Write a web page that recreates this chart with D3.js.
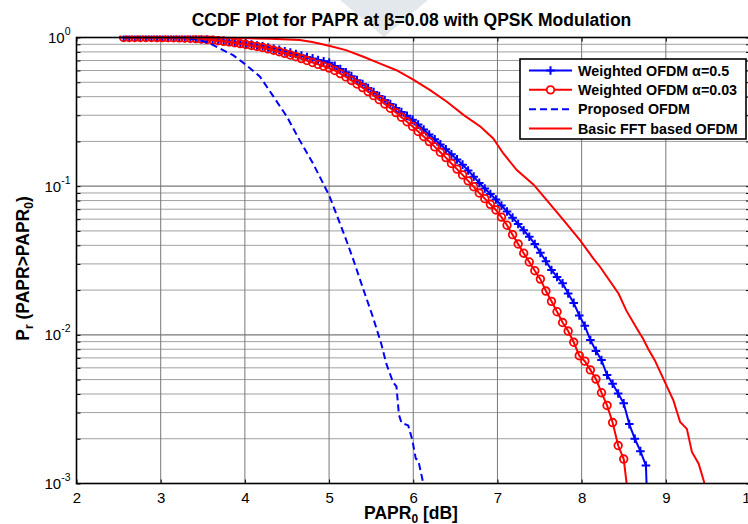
<!DOCTYPE html>
<html><head><meta charset="utf-8">
<script src="https://cdn.jsdelivr.net/npm/d3@7/dist/d3.min.js"></script>
<style>html,body{margin:0;padding:0;background:#fff;} svg{display:block;font-family:Arial,"Liberation Sans",Helvetica,sans-serif;}</style>
</head><body><svg id="chart" width="748" height="524"></svg>
<script>
// ---------- data ----------
const papr0Grid = [2.56,2.626,2.692,2.758,2.824,2.89,2.956,3.022,3.088,3.154,
3.22,3.286,3.352,3.418,3.484,3.55,3.616,3.682,3.748,3.814,
3.88,3.946,4.012,4.078,4.144,4.21,4.276,4.342,4.408,4.474,
4.54,4.606,4.672,4.738,4.804,4.87,4.936,5.002,5.068,5.134,
5.2,5.266,5.332,5.398,5.464,5.53,5.596,5.662,5.728,5.794,
5.86,5.926,5.992,6.058,6.124,6.19,6.256,6.322,6.388,6.454,
6.52,6.586,6.652,6.718,6.784,6.85,6.916,6.982,7.048,7.114,
7.18,7.246,7.312,7.378,7.444,7.51,7.576,7.642,7.708,7.774,
7.84,7.906,7.972,8.038,8.104,8.17,8.236,8.302,8.368,8.434,
8.5,8.566,8.632,8.698,8.764,8.83];

const weighted05 = [1,1,1,1,1,0.9995,0.9991,0.9986,0.9977,0.9966,
0.9950,0.9927,0.9897,0.9851,0.9795,0.9732,0.9665,0.9583,0.9502,0.9419,
0.9322,0.9215,0.9099,0.8974,0.8841,0.8730,0.8561,0.8404,0.8251,0.8072,
0.7907,0.7745,0.7568,0.7396,0.7236,0.7063,0.6918,0.6776,0.6442,0.6138,
0.5834,0.5495,0.5164,0.4864,0.4571,0.4295,0.4036,0.3793,0.3573,0.3357,
0.3155,0.2972,0.2793,0.2594,0.2404,0.2228,0.2065,0.1910,0.1770,0.1637,
0.1514,0.1396,0.1274,0.1159,0.1052,0.0964,0.0885,0.0813,0.0741,0.0675,
0.0614,0.0556,0.0505,0.0457,0.0408,0.0356,0.0313,0.0273,0.0245,0.0222,
0.0190,0.0164,0.0135,0.0115,0.00923,0.00780,0.00676,0.00537,0.00469,0.00403,
0.00346,0.00251,0.00200,0.00165,0.00132,0.0001];

const weighted003 = [1,1,1,1,1,0.9995,0.9991,0.9986,0.9977,0.9963,
0.9945,0.9920,0.9886,0.9833,0.9772,0.9694,0.9616,0.9519,0.9428,0.9333,
0.9215,0.9090,0.8974,0.8831,0.8700,0.8561,0.8386,0.8204,0.8027,0.7826,
0.7621,0.7430,0.7211,0.6998,0.6792,0.6592,0.6405,0.6230,0.5998,0.5715,
0.5433,0.5140,0.4864,0.4603,0.4325,0.4064,0.3819,0.3573,0.3342,0.3126,
0.2911,0.2710,0.2523,0.2333,0.2158,0.1995,0.1837,0.1690,0.1556,0.1422,
0.1303,0.1191,0.1086,0.0991,0.0899,0.0824,0.0755,0.0692,0.0619,0.0546,
0.0472,0.0408,0.0354,0.0309,0.0270,0.0237,0.0197,0.0168,0.0143,0.0121,
0.0106,0.00891,0.00724,0.00665,0.00581,0.00504,0.00408,0.00335,0.00257,0.00180,
0.00146,0.00071];

const proposedX = [2.56,3.0,3.3,3.47,3.59,3.86,3.99,4.18,4.34,4.50,4.65,4.81,5.0,5.13,5.22,5.29,5.41,5.52,5.62,5.68,5.76,5.80,5.83,5.86,5.94,5.99,6.03,6.06,6.12,6.15];
const proposedY = [1,1,0.99,0.96,0.91,0.76,0.67,0.545,0.40,0.293,0.204,0.142,0.087,0.056,0.041,0.0318,0.020,0.0132,0.0087,0.0064,0.0048,0.0045,0.0029,0.00256,0.00246,0.00195,0.00147,0.00143,0.001,0.0008];

const basicX = [2.56,3.0,3.5,3.94,4.3,4.65,4.8,5.0,5.2,5.4,5.6,5.8,6.0,6.2,6.4,6.6,6.8,6.95,7.07,7.23,7.43,7.58,7.78,7.98,8.14,8.22,8.44,8.53,8.67,8.73,8.79,8.87,8.97,9.09,9.17,9.25,9.31,9.39,9.46,9.52];
const basicY = [1,1,0.9977,0.9908,0.9795,0.9616,0.9333,0.8810,0.8222,0.7447,0.6699,0.6026,0.5212,0.4426,0.3698,0.3006,0.2512,0.2094,0.1660,0.1282,0.1023,0.0813,0.0596,0.0433,0.0326,0.0286,0.0189,0.0146,0.0107,0.00942,0.00807,0.00673,0.00507,0.00362,0.00259,0.00233,0.00163,0.00136,0.00100,0.00079];

const xTicks = [2,3,4,5,6,7,8,9,10];
const yDecadeExps = [-3,-2,-1,0];
const legendLabels = ["Weighted OFDM \u03b1=0.5","Weighted OFDM \u03b1=0.03","Proposed OFDM","Basic FFT based OFDM"];
const titleText = "CCDF Plot for PAPR at \u03b2=0.08 with QPSK Modulation";

// ---------- layout ----------
const L = 76.5, R = 750, T = 37.5, B = 483.5;
const svg = d3.select("#chart");
const x = d3.scaleLinear().domain([2,10]).range([L,R]);
const y = d3.scaleLog().domain([1e-3,1]).range([B,T]);

svg.append("rect").attr("width",748).attr("height",524).attr("fill","#fff");
// faint watermark of the source page
svg.append("polygon").attr("points","340,0 428,0 384,37").attr("fill","#e3e8ec");

svg.append("rect").attr("x",L).attr("y",T).attr("width",R-L).attr("height",B-T).attr("fill","#fff");

const yMinor = [];
yDecadeExps.slice(0,3).forEach(e => { for (let m=2;m<=9;m++) yMinor.push(m*Math.pow(10,e)); });
const yMajor = yDecadeExps.map(e => Math.pow(10,e));

const grid = svg.append("g");
grid.selectAll("line.ym").data(yMinor).join("line")
  .attr("x1",L).attr("x2",R).attr("y1",d=>y(d)).attr("y2",d=>y(d))
  .attr("stroke","#a0a0a0").attr("stroke-width",1);
grid.selectAll("line.yM").data(yMajor.slice(1,3)).join("line")
  .attr("x1",L).attr("x2",R).attr("y1",d=>y(d)).attr("y2",d=>y(d))
  .attr("stroke","#787878").attr("stroke-width",1.3);
grid.selectAll("line.xg").data(xTicks.slice(1,-1)).join("line")
  .attr("x1",d=>x(d)).attr("x2",d=>x(d)).attr("y1",T).attr("y2",B)
  .attr("stroke","#787878").attr("stroke-width",1);

const axB = svg.append("g").attr("transform",`translate(0,${B})`)
  .call(d3.axisBottom(x).tickValues(xTicks).tickSize(-4).tickPadding(9).tickFormat(d3.format("d")));
const axT = svg.append("g").attr("transform",`translate(0,${T})`)
  .call(d3.axisTop(x).tickValues(xTicks).tickSize(-4).tickFormat(""));
const axLft = svg.append("g").attr("transform",`translate(${L},0)`)
  .call(d3.axisLeft(y).tickValues(yMinor.concat(yMajor)).tickSize(-4).tickFormat(""));
const axRgt = svg.append("g").attr("transform",`translate(${R},0)`)
  .call(d3.axisRight(y).tickValues(yMinor.concat(yMajor)).tickSize(-4).tickFormat(""));
[axB,axT,axLft,axRgt].forEach(a => {
  a.select(".domain").remove();
  a.selectAll(".tick line").attr("stroke","#000").attr("stroke-width",1);
});
axB.selectAll(".tick text").attr("font-size",15).attr("fill","#000")
  .attr("font-family","Arial,'Liberation Sans',sans-serif");

const yl = svg.append("g");
yDecadeExps.forEach(e => {
  const t = yl.append("text").attr("x",70.5).attr("y",y(Math.pow(10,e))+5.5)
    .attr("text-anchor","end").attr("font-size",15).attr("fill","#000");
  t.append("tspan").text("10");
  t.append("tspan").attr("dy",-8).attr("font-size",10.5).text(String(e));
});

const clipId = "plotclip";
svg.append("clipPath").attr("id",clipId).append("rect")
  .attr("x",L).attr("y",T-2).attr("width",R-L).attr("height",B-T+2);
const plot = svg.append("g").attr("clip-path",`url(#${clipId})`);
const line = d3.line().x(d=>x(d[0])).y(d=>y(d[1]));

const s05 = papr0Grid.slice(0,weighted05.length).map((v,i)=>[v,weighted05[i]]);
const s003 = papr0Grid.slice(0,weighted003.length).map((v,i)=>[v,weighted003[i]]);
const sProp = proposedX.map((v,i)=>[v,proposedY[i]]);
const sBasic = basicX.map((v,i)=>[v,basicY[i]]);

const blue = "#0000ff", red = "#ff0000";
const plusPath = "M-4.3,0H4.3M0,-4.3V4.3";

plot.append("path").datum(s05).attr("d",line).attr("fill","none").attr("stroke",blue).attr("stroke-width",2);
plot.selectAll("path.plus").data(s05.filter(d=>d[1]>=1e-3)).join("path")
  .attr("transform",d=>`translate(${x(d[0])},${y(d[1])})`).attr("d",plusPath)
  .attr("stroke",blue).attr("stroke-width",2).attr("fill","none");
plot.append("path").datum(s003).attr("d",line).attr("fill","none").attr("stroke",red).attr("stroke-width",2);
plot.selectAll("circle.o").data(s003.filter(d=>d[1]>=1e-3)).join("circle")
  .attr("cx",d=>x(d[0])).attr("cy",d=>y(d[1])).attr("r",3.8)
  .attr("stroke",red).attr("stroke-width",1.8).attr("fill","none");
plot.append("path").datum(sProp).attr("d",line).attr("fill","none").attr("stroke",blue)
  .attr("stroke-width",2).attr("stroke-dasharray","7,4");
plot.append("path").datum(sBasic).attr("d",line).attr("fill","none").attr("stroke",red).attr("stroke-width",2);

svg.append("rect").attr("x",L).attr("y",T).attr("width",R-L).attr("height",B-T)
  .attr("fill","none").attr("stroke","#000").attr("stroke-width",1.6);

// legend
const lg = svg.append("g");
lg.append("rect").attr("x",520).attr("y",59).attr("width",226).attr("height",80)
  .attr("fill","#fff").attr("stroke","#000").attr("stroke-width",1.6);
const rowY = d3.scalePoint().domain(legendLabels).range([70.5,128.5]);
const lgStyles = [
  {c:blue,dash:null,mk:"plus"},
  {c:red,dash:null,mk:"circle"},
  {c:blue,dash:"7,4",mk:null},
  {c:red,dash:null,mk:null}];
legendLabels.forEach((lab,i) => {
  const yy = rowY(lab), st = lgStyles[i];
  lg.append("line").attr("x1",529).attr("x2",572).attr("y1",yy).attr("y2",yy)
    .attr("stroke",st.c).attr("stroke-width",2).attr("stroke-dasharray",st.dash);
  if (st.mk==="plus") lg.append("path").attr("transform",`translate(550.5,${yy})`).attr("d",plusPath)
    .attr("stroke",st.c).attr("stroke-width",2);
  if (st.mk==="circle") lg.append("circle").attr("cx",550.5).attr("cy",yy).attr("r",3.8)
    .attr("stroke",st.c).attr("stroke-width",1.8).attr("fill","#fff");
  lg.append("text").attr("x",578).attr("y",yy+5.2).attr("font-size",14.3).attr("font-weight","bold")
    .attr("fill","#000").text(lab);
});

svg.append("text").attr("x",411.5).attr("y",26).attr("text-anchor","middle")
  .attr("font-size",17.5).attr("font-weight","bold").attr("fill","#000").text(titleText);

const xl = svg.append("text").attr("x",411).attr("y",519).attr("text-anchor","middle")
  .attr("font-size",17.5).attr("font-weight","bold").attr("fill","#000");
xl.append("tspan").text("PAPR");
xl.append("tspan").attr("dy",4).attr("font-size",12).text("0");
xl.append("tspan").attr("dy",-4).text(" [dB]");

const ylab = svg.append("text").attr("transform","translate(29,268.5) rotate(-90)")
  .attr("text-anchor","middle").attr("font-size",17.5).attr("font-weight","bold").attr("fill","#000");
ylab.append("tspan").text("P");
ylab.append("tspan").attr("dy",4).attr("font-size",12).text("r");
ylab.append("tspan").attr("dy",-4).text(" (PAPR>PAPR");
ylab.append("tspan").attr("dy",4).attr("font-size",12).text("0");
ylab.append("tspan").attr("dy",-4).text(")");
</script></body></html>
